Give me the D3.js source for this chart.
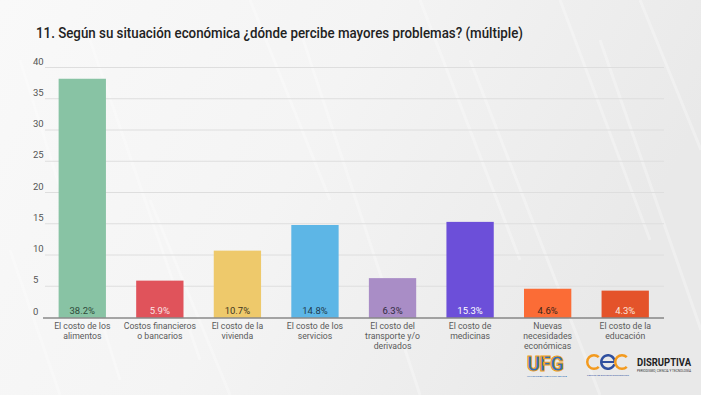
<!DOCTYPE html>
<html><head><meta charset="utf-8">
<script src="https://cdn.jsdelivr.net/npm/d3@7"></script>
<style>
html,body{margin:0;padding:0;background:#fff;}
svg{display:block;font-family:Roboto,"Noto Sans",sans-serif;}
</style></head>
<body>
<svg id="c" width="701" height="395"></svg>
<script>
const title = "11. Según su situación económica ¿dónde percibe mayores problemas? (múltiple)";
const categories = [
  ["El costo de los","alimentos"],
  ["Costos financieros","o bancarios"],
  ["El costo de la","vivienda"],
  ["El costo de los","servicios"],
  ["El costo del","transporte y/o","derivados"],
  ["El costo de","medicinas"],
  ["Nuevas","necesidades","económicas"],
  ["El costo de la","educación"]
];
const values = [38.2, 5.9, 10.7, 14.8, 6.3, 15.3, 4.6, 4.3];
const colors = ["#88c3a4","#e0535b","#eec96b","#5db6e6","#a98dc6","#6c4fd9","#fb6c36","#e4532a"];
const labelColors = ["#2f4a3a","#fbe3e3","#3d3520","#1f3a4d","#2f2a3d","#ffffff","#3a2418","#fde6dc"];
const yTicks = [0,5,10,15,20,25,30,35,40];

const svg = d3.select("#c");

// background texture
const defs = svg.append("defs");
const g1 = defs.append("linearGradient").attr("id","bg").attr("x1","0").attr("y1","0").attr("x2","1").attr("y2","0.3");
g1.append("stop").attr("offset","0").attr("stop-color","#f9f9f9");
g1.append("stop").attr("offset","0.5").attr("stop-color","#f4f4f4");
g1.append("stop").attr("offset","1").attr("stop-color","#e9e9e9");
svg.append("rect").attr("width",701).attr("height",395).attr("fill","url(#bg)");
const streaks = [[20,60,120,380],[90,40,200,360],[250,0,330,200],[300,30,420,395],[420,0,520,260],[470,60,600,395],[560,0,650,240],[600,40,701,330],[640,0,701,150],[150,200,230,395],[10,250,60,395]];
svg.append("g").selectAll("line").data(streaks).join("line")
  .attr("x1",d=>d[0]).attr("y1",d=>d[1]).attr("x2",d=>d[2]).attr("y2",d=>d[3])
  .attr("stroke","#ffffff").attr("stroke-width",3).attr("opacity",0.3);

// title
svg.append("text").attr("x",36).attr("y",38).text(title)
  .attr("font-size",14).attr("font-weight",500).attr("fill","#222")
  .attr("textLength",487).attr("lengthAdjust","spacingAndGlyphs");

const x = d3.scaleBand().domain(d3.range(values.length)).range([43.5,664]).paddingInner(0.39).paddingOuter(0.195);
const y = d3.scaleLinear().domain([0,40]).range([317.5,67.5]);

// gridlines
svg.append("g").selectAll("line").data(yTicks.filter(t=>t>0)).join("line")
  .attr("x1",45).attr("x2",664).attr("y1",d=>y(d)).attr("y2",d=>y(d))
  .attr("stroke","#dedede").attr("stroke-width",1);

// y labels
svg.append("g").selectAll("text").data(yTicks).join("text")
  .attr("x",33).attr("y",d=>y(d)-3).text(d=>d)
  .attr("font-size",9.5).attr("fill","#555");

// bars
svg.append("g").selectAll("rect").data(values).join("rect")
  .attr("x",(d,i)=>x(i)).attr("width",x.bandwidth())
  .attr("y",d=>y(d)).attr("height",d=>y(0)-y(d))
  .attr("fill",(d,i)=>colors[i]);

// value labels
svg.append("g").selectAll("text").data(values).join("text")
  .attr("x",(d,i)=>x(i)+x.bandwidth()/2).attr("y",314)
  .attr("text-anchor","middle").attr("font-size",9.5)
  .attr("fill",(d,i)=>labelColors[i]).text(d=>d.toFixed(1)+"%");

// axis baseline
svg.append("line").attr("x1",43).attr("x2",664).attr("y1",318).attr("y2",318)
  .attr("stroke","#555").attr("stroke-width",1);

// category labels
const cg = svg.append("g").selectAll("text").data(categories).join("text")
  .attr("text-anchor","middle").attr("font-size",8.7).attr("fill","#5a5a5a")
  .attr("transform",(d,i)=>`translate(${x(i)+x.bandwidth()/2},0)`);
cg.selectAll("tspan").data(d=>d).join("tspan")
  .attr("x",0).attr("y",(d,j)=>329+j*10.2).text(d=>d);

// logos (approximated)
const lg = svg.append("g");
lg.append("text").attr("x",527).attr("y",371).text("UFG")
  .attr("font-size",20).attr("font-weight",900).attr("fill","#2f6fb5")
  .attr("stroke","#f0a020").attr("stroke-width",1).attr("letter-spacing",-0.5);
lg.append("text").attr("x",527).attr("y",377).text("UNIVERSIDAD FRANCISCO GAVIDIA")
  .attr("font-size",2.5).attr("fill","#2f6fb5");
// cec rings
const ring = d3.arc().innerRadius(5.5).outerRadius(8);
const cecG = lg.append("g").attr("transform","translate(0,362)");
cecG.append("path").attr("transform","translate(594,0)")
  .attr("d",ring({startAngle:0.75*Math.PI, endAngle:2.25*Math.PI})).attr("fill","#f39a1e");
cecG.append("path").attr("transform","translate(608,0)")
  .attr("d",ring({startAngle:0.6*Math.PI, endAngle:2.5*Math.PI})).attr("fill","#2f4f9f");
cecG.append("rect").attr("x",602).attr("y",-1).attr("width",12).attr("height",2).attr("fill","#2f4f9f");
cecG.append("path").attr("transform","translate(622,0)")
  .attr("d",ring({startAngle:0.75*Math.PI, endAngle:2.25*Math.PI})).attr("fill","#f39a1e");
lg.append("text").attr("x",587).attr("y",376).text("CENTRO DE ESTUDIOS ECONÓMICOS")
  .attr("font-size",2.5).attr("fill","#2f4f9f").attr("textLength",42).attr("lengthAdjust","spacingAndGlyphs");
lg.append("text").attr("x",637).attr("y",366).text("DISRUPTIVA")
  .attr("font-size",11).attr("font-weight",700).attr("fill","#222")
  .attr("textLength",54).attr("lengthAdjust","spacingAndGlyphs");
lg.append("text").attr("x",637).attr("y",372).text("PERIODISMO, CIENCIA Y TECNOLOGÍA")
  .attr("font-size",3.2).attr("fill","#333").attr("textLength",54).attr("lengthAdjust","spacingAndGlyphs");
</script>
</body></html>
